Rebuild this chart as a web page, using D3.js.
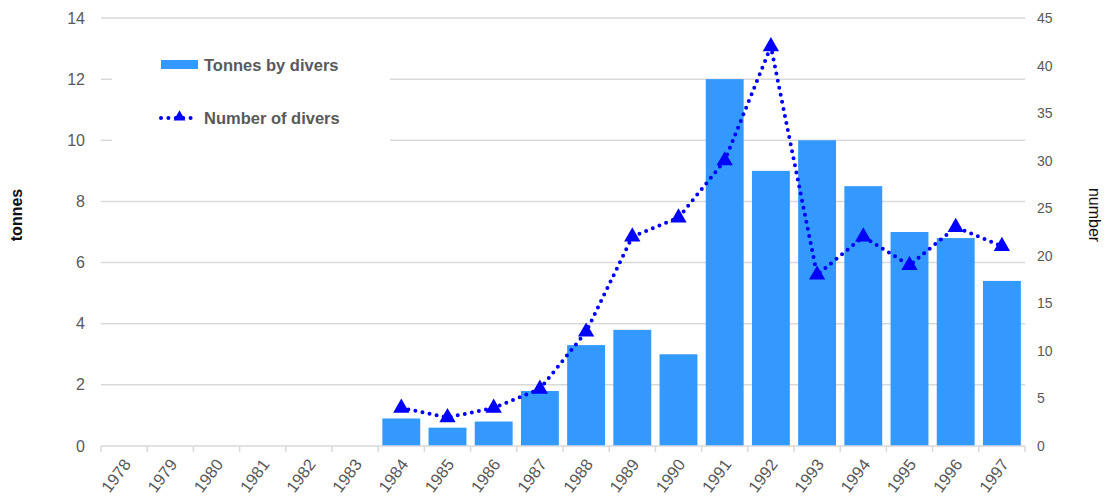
<!DOCTYPE html>
<html>
<head>
<meta charset="utf-8">
<script src="https://cdn.jsdelivr.net/npm/d3@7"></script>
<style>
  html, body { margin: 0; padding: 0; background: #fff; }
  svg { display: block; font-family: "Liberation Sans", Arial, sans-serif; }
</style>
</head>
<body>
<svg id="chart" width="1106" height="498"></svg>
<script>
// Catch data, 1978–1997
const years = ["1978","1979","1980","1981","1982","1983","1984","1985","1986","1987",
               "1988","1989","1990","1991","1992","1993","1994","1995","1996","1997"];
const tonnesByDivers = [null,null,null,null,null,null,0.9,0.6,0.8,1.8,
                        3.3,3.8,3.0,12,9,10,8.5,7.0,6.8,5.4];
const numberOfDivers = [null,null,null,null,null,null,4,3,4,6,
                        12,22,24,30,42,18,22,19,23,21];
const leftTicks = [0,2,4,6,8,10,12,14];
const rightTicks = [0,5,10,15,20,25,30,35,40,45];
const seriesNames = ["Tonnes by divers", "Number of divers"];

const svg = d3.select("#chart");
const m = { left: 101, right: 1025, top: 18, bottom: 446 };
const textCol = "#595959";
const barCol = "#3399ff";
const lineCol = "#0000ff";

const x = d3.scaleBand().domain(years).range([m.left, m.right]).paddingInner(0.18).paddingOuter(0.09);
const yL = d3.scaleLinear().domain([0, 14]).range([m.bottom, m.top]);
const yR = d3.scaleLinear().domain([0, 45]).range([m.bottom, m.top]);

// gridlines
svg.append("g").selectAll("line").data(leftTicks.filter(d => d > 0)).join("line")
  .attr("x1", m.left).attr("x2", m.right)
  .attr("y1", d => yL(d)).attr("y2", d => yL(d))
  .attr("stroke", "#d9d9d9").attr("stroke-width", 1.5);

// left axis
const gL = svg.append("g").attr("transform", `translate(${m.left},0)`)
  .call(d3.axisLeft(yL).tickValues(leftTicks).tickSize(0).tickPadding(16));
gL.select(".domain").remove();
gL.selectAll("text").attr("fill", textCol).style("font-size", "16px");

// right axis
const gR = svg.append("g").attr("transform", `translate(${m.right},0)`)
  .call(d3.axisRight(yR).tickValues(rightTicks).tickSize(0).tickPadding(12));
gR.select(".domain").remove();
gR.selectAll("text").attr("fill", textCol).style("font-size", "14px");

// bars
const barData = years.map((yr, i) => ({ yr, v: tonnesByDivers[i] })).filter(d => d.v != null);
svg.append("g").selectAll("rect").data(barData).join("rect")
  .attr("x", d => x(d.yr)).attr("width", x.bandwidth())
  .attr("y", d => yL(d.v)).attr("height", d => yL(0) - yL(d.v))
  .attr("fill", barCol);

// bottom axis with boundary ticks
const gX = svg.append("g").attr("transform", `translate(0,${m.bottom})`);
gX.append("line").attr("x1", m.left).attr("x2", m.right).attr("y1", 0).attr("y2", 0)
  .attr("stroke", "#d9d9d9").attr("stroke-width", 1.5);
gX.selectAll("line.tk").data(d3.range(years.length + 1)).join("line").attr("class", "tk")
  .attr("x1", i => m.left + i * (m.right - m.left) / years.length)
  .attr("x2", i => m.left + i * (m.right - m.left) / years.length)
  .attr("y1", 0).attr("y2", 6).attr("stroke", "#d9d9d9").attr("stroke-width", 1.5);
gX.selectAll("text").data(years).join("text")
  .attr("transform", d => `translate(${x(d) + x.bandwidth() / 2 + 3},${15}) rotate(-53)`)
  .attr("text-anchor", "end").attr("dy", "0.35em")
  .attr("fill", textCol).style("font-size", "16.5px").text(d => d);

// divers line
const ptData = years.map((yr, i) => ({ yr, v: numberOfDivers[i] })).filter(d => d.v != null);
const line = d3.line().x(d => x(d.yr) + x.bandwidth() / 2).y(d => yR(d.v));
svg.append("path").datum(ptData).attr("d", line)
  .attr("fill", "none").attr("stroke", lineCol).attr("stroke-width", 4)
  .attr("stroke-linecap", "round").attr("stroke-dasharray", "0,7.2");
const tri = d3.symbol().type(d3.symbolTriangle).size(115);
svg.append("g").selectAll("path").data(ptData).join("path")
  .attr("transform", d => `translate(${x(d.yr) + x.bandwidth() / 2},${yR(d.v)})`)
  .attr("d", tri).attr("fill", lineCol);

// axis titles
svg.append("text").attr("transform", "translate(22,215) rotate(-90)")
  .attr("text-anchor", "middle").attr("font-weight", "bold").style("font-size", "16px")
  .attr("fill", "#111").text("tonnes");
svg.append("text").attr("transform", "translate(1089,215) rotate(90)")
  .attr("text-anchor", "middle").style("font-size", "16px")
  .attr("fill", "#111").text("number");

// legend
const lg = svg.append("g");
lg.append("rect").attr("x", 112).attr("y", 35).attr("width", 278).attr("height", 125).attr("fill", "#fff");
lg.append("rect").attr("x", 161).attr("y", 60).attr("width", 37).attr("height", 9).attr("fill", barCol);
lg.append("line").attr("x1", 161).attr("x2", 198).attr("y1", 118).attr("y2", 118)
  .attr("stroke", lineCol).attr("stroke-width", 4).attr("stroke-linecap", "round")
  .attr("stroke-dasharray", "0,7.4");
lg.append("path").attr("transform", "translate(179.5,117)").attr("d", d3.symbol().type(d3.symbolTriangle).size(60)).attr("fill", lineCol);
lg.selectAll("text").data(seriesNames).join("text")
  .attr("x", 204).attr("y", (d, i) => 65 + i * 53).attr("dy", "0.35em")
  .attr("font-weight", "bold").style("font-size", "16.5px").attr("fill", textCol)
  .text(d => d);
</script>
</body>
</html>
